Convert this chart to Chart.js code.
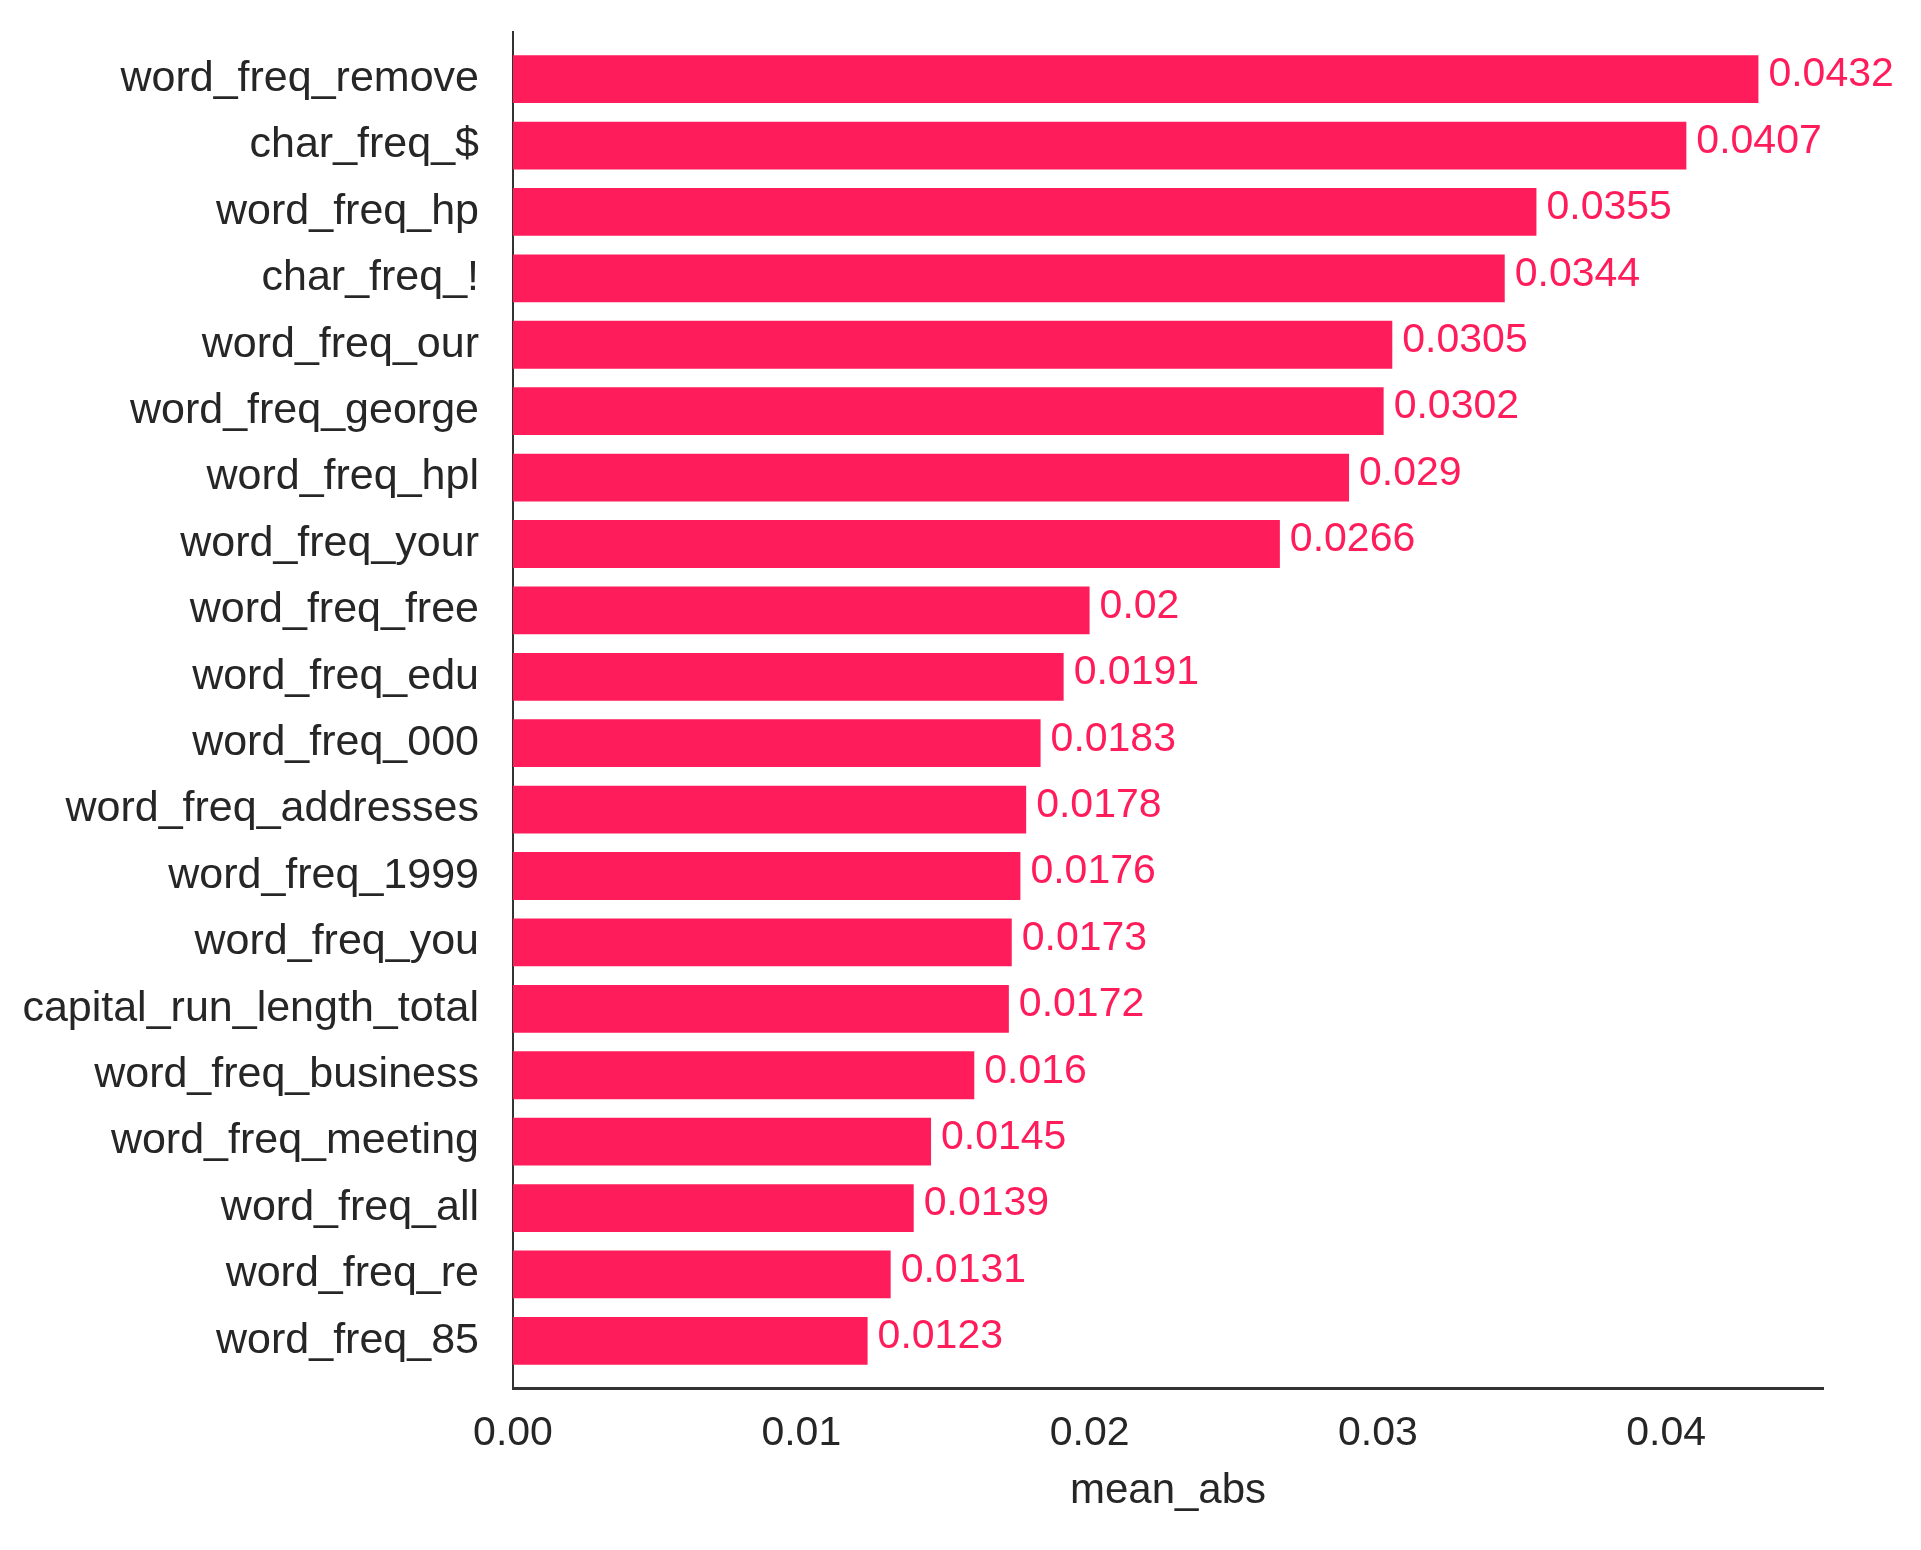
<!DOCTYPE html>
<html>
<head>
<meta charset="utf-8">
<script src="https://cdn.jsdelivr.net/npm/chart.js@4.4.1/dist/chart.umd.min.js"></script>
<style>
  html, body { margin: 0; padding: 0; background: #fff; }
  #wrap { width: 1921px; height: 1550px; }
</style>
</head>
<body>
<div id="wrap"><canvas id="featChart"></canvas></div>
<script>
const features = [
  "word_freq_remove", "char_freq_$", "word_freq_hp", "char_freq_!",
  "word_freq_our", "word_freq_george", "word_freq_hpl", "word_freq_your",
  "word_freq_free", "word_freq_edu", "word_freq_000", "word_freq_addresses",
  "word_freq_1999", "word_freq_you", "capital_run_length_total",
  "word_freq_business", "word_freq_meeting", "word_freq_all",
  "word_freq_re", "word_freq_85"
];
const meanAbs = [
  0.0432, 0.0407, 0.0355, 0.0344, 0.0305, 0.0302, 0.029, 0.0266,
  0.02, 0.0191, 0.0183, 0.0178, 0.0176, 0.0173, 0.0172, 0.016,
  0.0145, 0.0139, 0.0131, 0.0123
];
const xTicks = [0, 0.01, 0.02, 0.03, 0.04];

const barColor = "#ff1c5b";
const FONT = "'Liberation Sans', Arial, sans-serif";

// value text at the end of each bar
const valueLabels = {
  id: "valueLabels",
  afterDatasetsDraw(chart) {
    const ctx = chart.ctx;
    const meta = chart.getDatasetMeta(0);
    ctx.save();
    ctx.fillStyle = barColor;
    ctx.font = "41px " + FONT;
    ctx.textBaseline = "middle";
    ctx.textAlign = "left";
    meta.data.forEach(function (bar, i) {
      ctx.fillText(String(meanAbs[i]), bar.x + 10, bar.y - 4);
    });
    ctx.restore();
  }
};

const ctx = document.getElementById("featChart");

new Chart(ctx, {
  type: "bar",
  data: {
    labels: features,
    datasets: [
      {
        label: "mean_abs",
        data: meanAbs,
        backgroundColor: barColor,
        borderWidth: 0,
        barPercentage: 0.72,
        categoryPercentage: 1.0,
      },
    ],
  },
  options: {
    indexAxis: "y",
    responsive: true,
    maintainAspectRatio: false,
    animation: false,
    layout: { padding: { top: 32, right: 98, left: 0, bottom: 0 } },
    plugins: {
      legend: { display: false },
      tooltip: { enabled: false },
    },
    scales: {
      x: {
        type: "linear",
        min: 0,
        max: 0.04544,
        afterBuildTicks: function (scale) {
          scale.ticks = xTicks.map(function (v) { return { value: v }; });
        },
        afterFit: function (scale) { scale.height = 162; },
        ticks: {
          color: "#262626",
          font: { family: FONT, size: 41 },
          padding: 21,
          maxRotation: 0,
          callback: function (v) { return Number(v).toFixed(2); },
        },
        grid: { display: false, drawTicks: false },
        border: { display: true, color: "#333333", width: 3 },
        title: {
          display: true,
          text: "mean_abs",
          color: "#262626",
          font: { family: FONT, size: 42 },
          padding: { top: 0, bottom: 33 },
        },
      },
      y: {
        type: "category",
        afterBuildTicks: function (scale) {
          // extra margin above the first and below the last bar
          scale._startValue = -0.71;
          scale._valueRange = 20.42;
        },
        afterFit: function (scale) {
          scale.width = 513;
          scale.paddingTop = 0;
          scale.paddingBottom = 0;
        },
        ticks: {
          color: "#262626",
          font: { family: FONT, size: 43 },
          padding: 34,
        },
        grid: { display: false, drawTicks: false },
        border: { display: true, color: "#333333", width: 2 },
      },
    },
  },
  plugins: [valueLabels],
});
</script>
</body>
</html>
